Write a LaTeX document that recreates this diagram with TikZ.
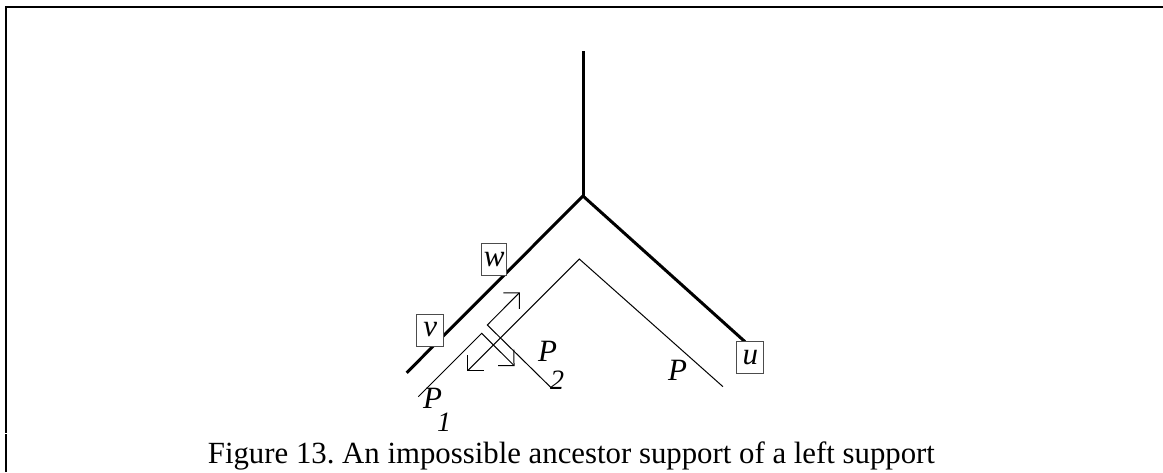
\documentclass[tikz,border=0pt]{standalone}
\usepackage{fontspec}
\setmainfont{Liberation Serif}
\usetikzlibrary{arrows.meta}
\frenchspacing
\begin{document}
\begin{tikzpicture}[x=1pt,y=-1pt,
  thickline/.style={line width=3pt},
  thinline/.style={line width=1pt},
  tipped/.style={thinline,-{Straight Barb[angle=90:16pt]}},
  vbox/.style={draw=black!70,fill=white,line width=0.8pt,inner sep=0pt,
    minimum width=27pt,minimum height=32pt,font=\fontsize{31}{36}\selectfont\itshape},
  plabel/.style={inner sep=0pt,anchor=base west,font=\fontsize{31}{36}\selectfont\itshape},
  sublabel/.style={inner sep=0pt,anchor=base west,font=\fontsize{28}{34}\selectfont\itshape},
  caption/.style={inner sep=0pt,anchor=base west,font=\fontsize{30.8}{36}\selectfont}]
\useasboundingbox (0,0) rectangle (1163,472);
% frame
\draw[line width=2pt] (6,472) -- (6,434);
\draw[line width=2pt] (6,432.5) -- (6,7.3) -- (1163,7.3);
% tree
\coordinate (top) at (583,51);
\coordinate (fork) at (583,196);
\coordinate (vl) at (406.7,372.7);
\coordinate (ue) at (745,341.7);
\draw[thickline] (top) -- (fork);
\draw[thickline] (vl) -- (fork) -- (ue);
% path P
\coordinate (pr) at (723,386.7);
\coordinate (pa) at (579.3,259);
\coordinate (pl) at (467.3,371);
\draw[tipped] (pr) -- (pa) -- (pl);
% path P1
\coordinate (p1s) at (418.3,396.7);
\coordinate (p1a) at (481.7,333.3);
\coordinate (p1e) at (514.5,366);
\draw[tipped] (p1s) -- (p1a) -- (p1e);
% path P2
\coordinate (p2e) at (551.7,388.3);
\coordinate (p2a) at (487.3,325);
\coordinate (p2t) at (519.8,292.3);
\draw[tipped] (p2e) -- (p2a) -- (p2t);
% boxed vertices
\node[vbox,minimum width=25pt] (w) at (494.2,259.2) {w};
\node[vbox] (v) at (430.3,330) {v};
\node[vbox] (u) at (750.3,357.5) {u};
% labels
\node[plabel] (lP) at (668,380.7) {P};
\node[plabel] (lP1) at (423,408.3) {P};
\node[sublabel] (lP1s) at (437,431) {1};
\node[plabel] (lP2) at (538,361.7) {P};
\node[sublabel] (lP2s) at (550,389) {2};
% caption
\node[caption] (cap) at (207.7,463.3) {Figure 13. An impossible ancestor support of a left support};
\end{tikzpicture}
\end{document}
